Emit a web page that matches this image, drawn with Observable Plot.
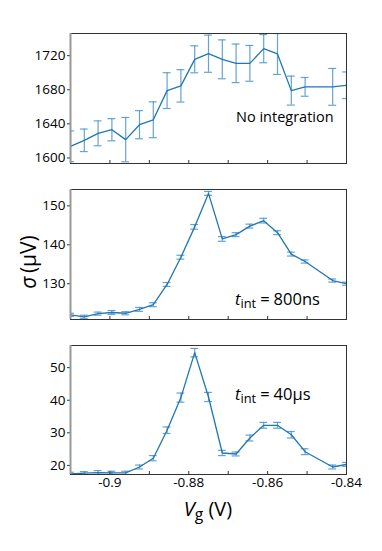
<!DOCTYPE html>
<html>
<head>
<meta charset="utf-8">
<script src="https://cdn.jsdelivr.net/npm/d3@7"></script>
<script src="https://cdn.jsdelivr.net/npm/@observablehq/plot@0.6"></script>
<style>
  html, body { margin: 0; padding: 0; background: #fff; }
  #wrap { position: relative; width: 382px; height: 551px; font-family: "Open Sans", "Noto Sans", sans-serif; color: #000; }
  #wrap svg { position: absolute; left: 0; overflow: visible; }
  .ann { position: absolute; font-size: 14.5px; white-space: nowrap; line-height: 1; }
  .ann.big { font-size: 16.5px; }
  .ann .eq { margin: 0 4px 0 4px; }
  .ylab { position: absolute; font-size: 21px; white-space: nowrap; transform: translate(-50%, -50%) rotate(-90deg); line-height: 1; }
  .xlab { position: absolute; font-size: 20px; white-space: nowrap; transform: translate(-50%, -50%); line-height: 1; }
  sub { font-size: 0.78em; vertical-align: -0.25em; line-height: 0; }
</style>
</head>
<body>
<div id="wrap"></div>
<script>
// Gate voltage (V)
const vg = [-0.91, -0.9065, -0.903, -0.8995, -0.896, -0.8925, -0.889, -0.8855, -0.882, -0.8785,
            -0.875, -0.8715, -0.868, -0.8645, -0.861, -0.8575, -0.854, -0.8505, -0.8435, -0.84];
// sigma (µV) — no integration
const sigmaNone = [1613.7, 1620.7, 1628.9, 1633.1, 1621.5, 1639.0, 1644.8, 1679.0, 1684.6, 1715.7,
                   1722.3, 1715.7, 1711.0, 1711.0, 1728.2, 1722.0, 1679.0, 1683.4, 1683.4, 1685.3];
const errNone = [18, 13.2, 14.6, 13, 26, 16.5, 21, 21, 19, 15.8, 21.8, 22.8, 22.6, 21, 16.5, 24, 17, 11, 21.6, 15.6];
// sigma (µV) — t_int = 800 ns
const sigma800 = [122.0, 121.5, 122.3, 122.6, 122.4, 123.4, 124.6, 129.8, 136.8, 144.6,
                  153.2, 141.5, 142.6, 144.8, 146.2, 143.1, 137.6, 135.7, 130.8, 130.0];
const err800 = [0.4, 0.4, 0.4, 0.5, 0.4, 0.5, 0.5, 0.5, 0.5, 0.6, 0.5, 0.6, 0.5, 0.5, 0.6, 0.5, 0.5, 0.4, 0.4, 0.4];
// sigma (µV) — t_int = 40 µs
const sigma40 = [17.4, 17.6, 17.8, 17.7, 17.7, 19.5, 22.2, 30.8, 40.8, 54.6,
                 41.0, 23.8, 23.5, 28.4, 32.3, 32.3, 29.4, 24.2, 19.5, 20.3];
const err40 = [0.5, 0.5, 0.6, 0.5, 0.5, 0.6, 0.8, 1.0, 1.4, 1.3, 1.4, 0.8, 0.6, 0.9, 0.9, 0.9, 1.0, 0.9, 0.6, 0.6];

const xDomain = [-0.91, -0.84];
const xMinorTicks = [-0.91, -0.9, -0.89, -0.88, -0.87, -0.86, -0.85, -0.84];
const xLabelTicks = [-0.9, -0.88, -0.86, -0.84];
const yTicksNone = [1600, 1640, 1680, 1720];
const yTicks800 = [130, 140, 150];
const yTicks40 = [20, 30, 40, 50];

const lineColor = "#1f77b4";
const errColor = "#4a93cc";
const capHalf = 0.001;

function panel({values, errs, yDomain, yTicks, top, height, marginTop, marginBottom, showX}) {
  const data = vg.map((x, i) => ({x, y: values[i], e: errs[i]}));
  const marks = [
    Plot.ruleX(data, {x: "x", y1: d => d.y - d.e, y2: d => d.y + d.e, stroke: errColor, strokeOpacity: 0.85, strokeWidth: 1.2, clip: true}),
    Plot.ruleY(data, {y: d => d.y - d.e, x1: d => d.x - capHalf, x2: d => d.x + capHalf, stroke: errColor, strokeOpacity: 0.85, strokeWidth: 1.2, clip: true}),
    Plot.ruleY(data, {y: d => d.y + d.e, x1: d => d.x - capHalf, x2: d => d.x + capHalf, stroke: errColor, strokeOpacity: 0.85, strokeWidth: 1.2, clip: true}),
    Plot.line(data, {x: "x", y: "y", stroke: lineColor, strokeWidth: 1.3, clip: true}),
    Plot.axisY({ticks: yTicks, tickSize: 3, tickPadding: 2, label: null, stroke: "#333", fontSize: 13.5, tickFormat: d => String(d)}),
    Plot.axisX({ticks: xMinorTicks, tickSize: -3, fill: "none", label: null, stroke: "#333"}),
    Plot.frame({stroke: "#333", strokeWidth: 1}),
    Plot.ruleX([xDomain[0]], {stroke: "#999", strokeWidth: 2})
  ];
  if (showX) {
    marks.push(Plot.axisX({ticks: xLabelTicks, tickSize: 0, tickPadding: 3, label: null, tickFormat: d => String(d), fontSize: 13.5}));
  }
  const svg = Plot.plot({
    width: 382,
    height,
    marginLeft: 70,
    marginRight: 36,
    marginTop,
    marginBottom,
    x: {domain: xDomain, axis: null},
    y: {domain: yDomain, axis: null},
    style: {fontFamily: '"Open Sans", "Noto Sans", sans-serif', fontSize: "13.5px", color: "#000", background: "transparent"},
    marks
  });
  svg.style.top = top + "px";
  return svg;
}

const wrap = document.getElementById("wrap");
wrap.appendChild(panel({values: sigmaNone, errs: errNone, yDomain: [1593.5, 1746], yTicks: yTicksNone, top: 0, height: 175, marginTop: 33, marginBottom: 12}));
wrap.appendChild(panel({values: sigma800, errs: err800, yDomain: [120.8, 154.2], yTicks: yTicks800, top: 175, height: 150, marginTop: 14, marginBottom: 6}));
wrap.appendChild(panel({values: sigma40, errs: err40, yDomain: [17.2, 56.8], yTicks: yTicks40, top: 330, height: 165, marginTop: 15, marginBottom: 21, showX: true}));

function addHtml(cls, html, left, top) {
  const d = document.createElement("div");
  d.className = cls;
  d.innerHTML = html;
  d.style.left = left + "px";
  d.style.top = top + "px";
  wrap.appendChild(d);
}
addHtml("ann", "No integration", 236, 110);
addHtml("ann big", "<i>t</i><sub>int</sub><span class=\"eq\">=</span>800ns", 235, 291);
addHtml("ann big", "<i>t</i><sub>int</sub><span class=\"eq\">=</span>40µs", 235, 386);
addHtml("ylab", "<i>σ</i>&#8201;(µV)", 28, 262);
addHtml("xlab", "<i>V</i><sub>g</sub> (V)", 208, 509);
</script>
</body>
</html>
